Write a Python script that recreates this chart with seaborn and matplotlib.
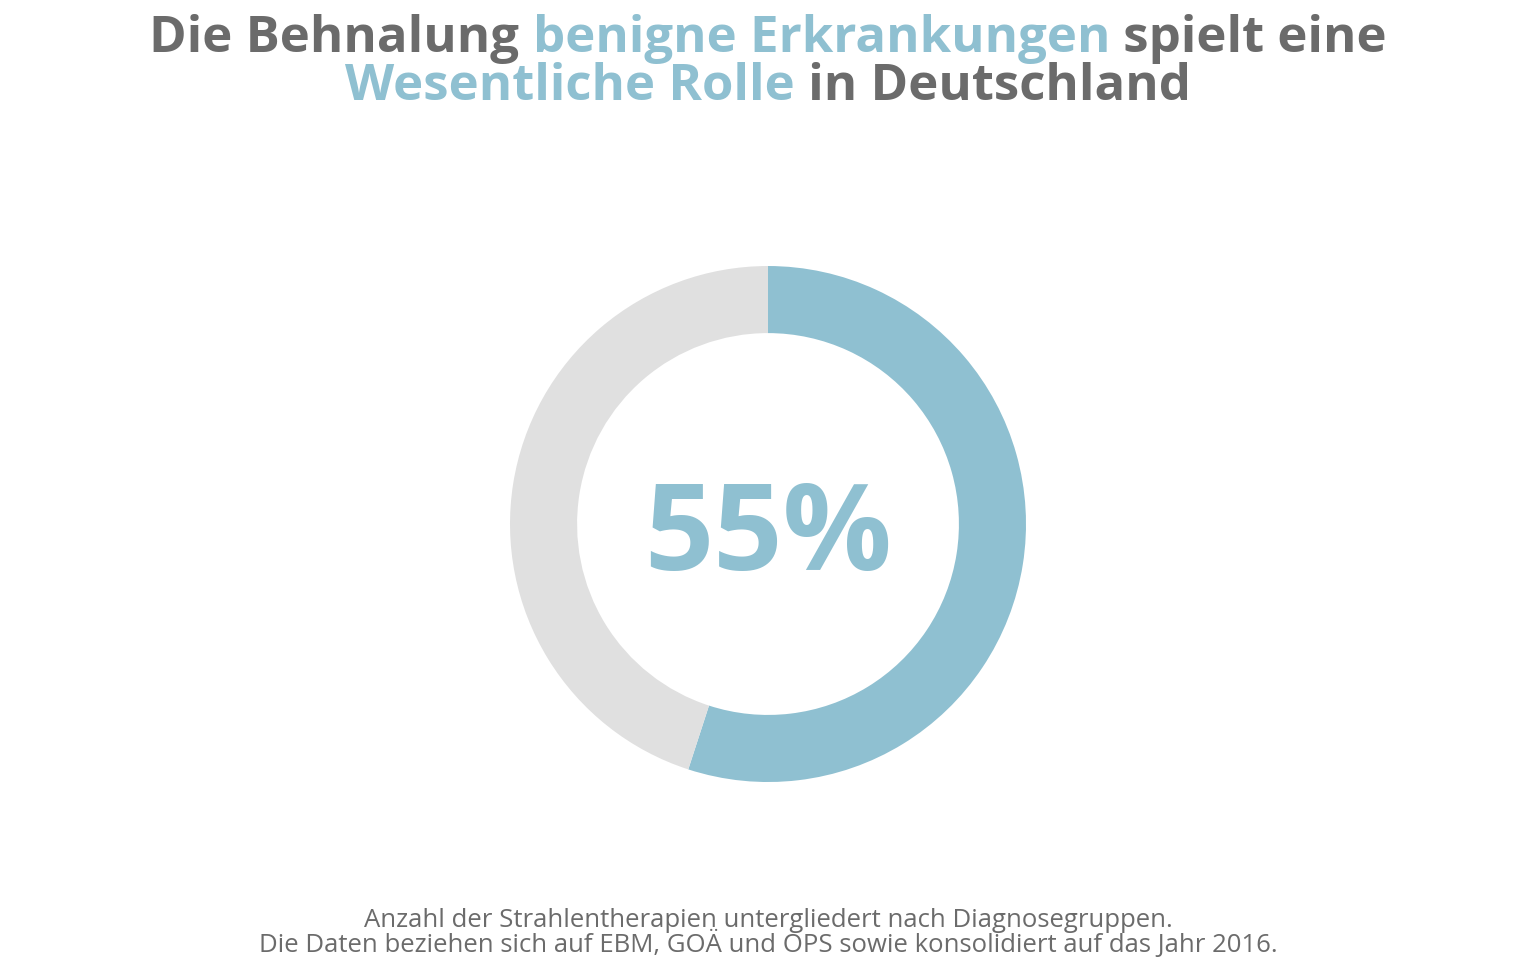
import matplotlib
matplotlib.use("Agg")
import matplotlib.pyplot as plt
import seaborn as sns

# share of benign diagnoses in radiotherapy counts
labels = ["benigne", "sonstige"]
shares = [55, 45]
center_label = "55%"

title_line1 = [("Die Behnalung ", "grey"), ("benigne Erkrankungen", "blue"), (" spielt eine", "grey")]
title_line2 = [("Wesentliche Rolle", "blue"), (" in Deutschland", "grey")]
footnote = ("Anzahl der Strahlentherapien untergliedert nach Diagnosegruppen.\n"
            "Die Daten beziehen sich auf EBM, GOÄ und OPS sowie konsolidiert auf das Jahr 2016.")

BLUE = "#8fc0d1"
GREY_TXT = "#6b6b6b"
LIGHT = "#e0e0e0"
colors = {"blue": BLUE, "grey": GREY_TXT}

sns.set_theme(style="white")
plt.rcParams['font.family'] = ['Open Sans', 'DejaVu Sans']

fig = plt.figure(figsize=(16, 10), dpi=96)
fig.patch.set_facecolor("white")

ax = fig.add_axes([0.332, 0.1854, 0.336, 0.5375])
ax.pie(shares, colors=[BLUE, LIGHT], startangle=90, counterclock=False,
       radius=1, wedgeprops=dict(width=0.26, linewidth=0))
ax.set_xlim(-1, 1)
ax.set_ylim(-1, 1)
ax.set_aspect("equal")
ax.axis("off")
ax.text(0, -0.178, center_label, ha="center", va="baseline", color=BLUE,
        fontsize=91, fontweight="bold")


def colored_line(parts, y, size):
    texts = []
    for txt, c in parts:
        t = fig.text(0, y, txt, color=colors[c], fontsize=size, fontweight="bold",
                     ha="left", va="baseline")
        texts.append(t)
    fig.canvas.draw()
    r = fig.canvas.get_renderer()
    widths = [t.get_window_extent(r).width / fig.bbox.width for t in texts]
    x = 0.5 - sum(widths) / 2
    for t, w in zip(texts, widths):
        t.set_x(x)
        x += w


colored_line(title_line1, 1 - 52 / 960, 38.2)
colored_line(title_line2, 1 - 100 / 960, 38.2)

fig.text(0.5, 1 - 958 / 960, footnote, ha="center", va="bottom", color=GREY_TXT,
         fontsize=19.3, linespacing=0.86)

fig.savefig("out.png", dpi=96, facecolor="white")
